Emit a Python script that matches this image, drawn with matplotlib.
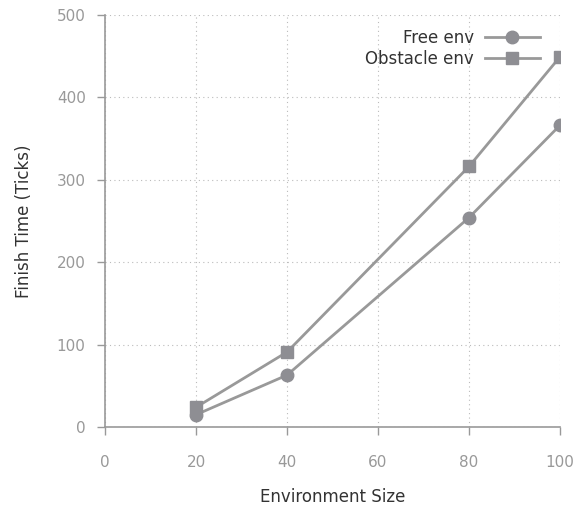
import matplotlib
matplotlib.use("Agg")
import matplotlib.pyplot as plt

sizes = [20, 40, 80, 100]
free_env = [15, 63, 254, 366]
obstacle_env = [24, 91, 316, 449]
xticks = [0, 20, 40, 60, 80, 100]
yticks = [0, 100, 200, 300, 400, 500]

plt.rcParams['font.family'] = ['DejaVu Sans']
fig = plt.figure(figsize=(5.87, 5.09), dpi=100)
ax = fig.add_axes([0.179, 0.161, 0.775, 0.81])

lc = '#999999'
ax.plot(sizes, free_env, color=lc, lw=2, marker='o', ms=9, mfc='#8e8e93', mec='#8e8e93', label='Free env')
ax.plot(sizes, obstacle_env, color=lc, lw=2, marker='s', ms=9, mfc='#8e8e93', mec='#8e8e93', label='Obstacle env')

ax.set_xlim(0, 100)
ax.set_ylim(0, 500)
ax.set_xticks(xticks)
ax.set_yticks(yticks)
ax.grid(True, color='#bbbbbb', linestyle=(0, (1, 3)), lw=0.8)
ax.set_axisbelow(True)
for s in ['top', 'right']:
    ax.spines[s].set_visible(False)
for s in ['left', 'bottom']:
    ax.spines[s].set_color('#999999')
    ax.spines[s].set_linewidth(1.2)
ax.tick_params(axis='x', direction='out', length=6, width=1, color='#999999', labelcolor='#999999', labelsize=11, pad=14)
ax.tick_params(axis='y', direction='out', length=6, width=1, color='#999999', labelcolor='#999999', labelsize=11, pad=8)
ax.set_xlabel('Environment Size', fontsize=12, color='#333333', labelpad=13)
ax.set_ylabel('Finish Time (Ticks)', fontsize=12, color='#333333', labelpad=17)

leg = ax.legend(loc='upper right', frameon=False, markerfirst=False, fontsize=12,
                handlelength=3.3, handletextpad=0.65, bbox_to_anchor=(0.956, 0.966),
                borderaxespad=0, borderpad=0, labelspacing=0.2)
for t in leg.get_texts():
    t.set_color('#333333')

fig.savefig('out.png', dpi=100)
